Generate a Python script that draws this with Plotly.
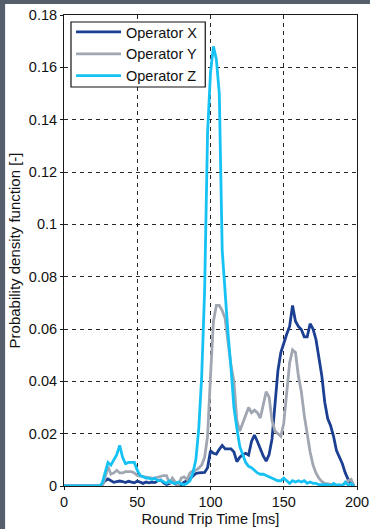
import plotly.graph_objects as go

rtt_ms = list(range(0, 200, 2))

operator_x = [0]*13 + [
    0.0005, 0.002, 0.0027, 0.002, 0.0014, 0.0017, 0.0019, 0.0017, 0.0013, 0.0018,
    0.0015, 0.0012, 0.0019, 0.0014, 0.001, 0.0015, 0.0012, 0.0015, 0.0013, 0.002,
    0.0023, 0.0012, 0.0006, 0.001, 0.0016, 0.0008, 0.0002, 0.0004, 0.0015, 0.002,
    0.0027, 0.0038, 0.0048, 0.005, 0.005, 0.0052, 0.007, 0.0135, 0.0125, 0.0122,
    0.014, 0.0155, 0.0142, 0.0143, 0.0142, 0.013, 0.0093, 0.011, 0.012, 0.0125,
    0.0118, 0.017, 0.0195, 0.017, 0.014, 0.0115, 0.0095, 0.012, 0.018, 0.031,
    0.044, 0.051, 0.055, 0.058, 0.061, 0.069, 0.063, 0.061, 0.0598, 0.057,
    0.057, 0.062, 0.060, 0.056, 0.049, 0.042, 0.032, 0.0258, 0.023, 0.019,
    0.0135, 0.011, 0.0085, 0.005, 0.0025, 0.0008, 0]

operator_y = [0]*14 + [
    0.003, 0.0075, 0.0045, 0.005, 0.006, 0.005, 0.005, 0.0055, 0.0055, 0.0055,
    0.005, 0.004, 0.0038, 0.0036, 0.0034, 0.003, 0.003, 0.003, 0.0034, 0.0036,
    0.004, 0.004, 0.001, 0.003, 0.0015, 0.0, 0.003, 0.0035, 0.0025, 0.005,
    0.0058, 0.006, 0.0068, 0.008, 0.011, 0.019, 0.042, 0.063, 0.069, 0.069,
    0.067, 0.064, 0.055, 0.046, 0.040, 0.025, 0.021, 0.024, 0.027, 0.030,
    0.028, 0.029, 0.028, 0.026, 0.031, 0.036, 0.034, 0.025, 0.021, 0.020,
    0.019, 0.024, 0.036, 0.047, 0.052, 0.051, 0.042, 0.036, 0.027, 0.019,
    0.013, 0.008, 0.005, 0.003, 0.0017, 0.001, 0.0008, 0.0008, 0.0004, 0,
    0, 0.0005, 0.001, 0.002, 0.0025, 0]

operator_z = [0]*13 + [
    0.001, 0.005, 0.009, 0.008, 0.010, 0.012, 0.0155, 0.011, 0.0085, 0.009,
    0.009, 0.009, 0.006, 0.004, 0.0035, 0.003, 0.003, 0.0025, 0.003, 0.002,
    0.0022, 0.0015, 0.001, 0.002, 0.0012, 0.001, 0.0015, 0.0008, 0.0005, 0.001,
    0.002, 0.005, 0.010, 0.022, 0.042, 0.075, 0.135, 0.158, 0.168, 0.163,
    0.150, 0.090, 0.072, 0.058, 0.045, 0.030, 0.022, 0.015, 0.012, 0.009,
    0.0075, 0.007, 0.006, 0.005, 0.0045, 0.0045, 0.004, 0.0035, 0.003, 0.0025,
    0.002, 0.002, 0.003, 0.002, 0.001, 0.002, 0.0015, 0.002, 0.0015, 0.002,
    0.001, 0.0015, 0.001, 0.001, 0.0005, 0.0005, 0.0005, 0.0005, 0, 0.001,
    0.0003, 0.0005, 0, 0.0015, 0.0003, 0.001, 0]

series = [
    ("Operator X", operator_x, "#1b3f92"),
    ("Operator Y", operator_y, "#a0a7b2"),
    ("Operator Z", operator_z, "#16c2f3"),
]

x_ticks = [0, 50, 100, 150, 200]
y_ticks = [0, 0.02, 0.04, 0.06, 0.08, 0.1, 0.12, 0.14, 0.16, 0.18]
y_tick_labels = ["0", "0.02", "0.04", "0.06", "0.08", "0.1", "0.12", "0.14", "0.16", "0.18"]

fig = go.Figure()
for name, vals, color in series:
    fig.add_trace(go.Scatter(x=rtt_ms, y=vals, mode="lines", name=name,
                             line=dict(color=color, width=2.8)))

FONT = "Liberation Sans, Arial, sans-serif"
axis_common = dict(
    automargin=False,
    showline=True, linecolor="#1a1a1a", linewidth=1, mirror=True,
    showgrid=True, gridcolor="#262626", gridwidth=1, griddash="4px,4px",
    zeroline=False, ticks="outside", ticklen=3, tickcolor="#1a1a1a",
    tickfont=dict(family=FONT, size=14.5, color="#111"),
)

fig.update_xaxes(range=[0, 200], tickvals=x_ticks,
                 title=dict(text="Round Trip Time [ms]", font=dict(family=FONT, size=14.5, color="#111"), standoff=4),
                 **axis_common)
fig.update_yaxes(range=[0, 0.18], tickvals=y_ticks, ticktext=y_tick_labels,
                 title=dict(text="Probability density function [-]", font=dict(family=FONT, size=15, color="#111"), standoff=4),
                 **axis_common)

# plot area in pixels: x 64..357.5, y 15..486
fig.update_layout(
    template="none",
    width=370, height=529,
    margin=dict(l=64, r=12.5, t=15, b=43),
    paper_bgcolor="white", plot_bgcolor="white",
    showlegend=True,
    legend=dict(x=0.024, y=(486 - 16) / 471, xanchor="left", yanchor="top",
                bgcolor="rgba(0,0,0,0)", borderwidth=0,
                font=dict(family=FONT, size=14.5, color="#111"),
                itemwidth=45, tracegroupgap=0),
    shapes=[
        dict(type="rect", xref="paper", yref="paper", x0=-0.3, x1=1.3,
             y0=(486 - 4) / 471, y1=1.2, fillcolor="#545f6b", line=dict(width=0), layer="below"),
        dict(type="rect", xref="paper", yref="paper", x0=-0.3, x1=(5 - 64) / 293.5,
             y0=-0.2, y1=1.2, fillcolor="#545f6b", line=dict(width=0), layer="below"),
        dict(type="rect", xref="paper", yref="paper",
             x0=(71 - 64) / 293.5, x1=(205.5 - 64) / 293.5,
             y0=(486 - 87) / 471, y1=(486 - 22) / 471,
             fillcolor="white", line=dict(color="#111", width=1.2), layer="above"),
    ],
)

fig.write_html("out.html", config={"displayModeBar": False},
               post_script="document.body.style.margin='0';document.body.style.overflow='hidden';")
